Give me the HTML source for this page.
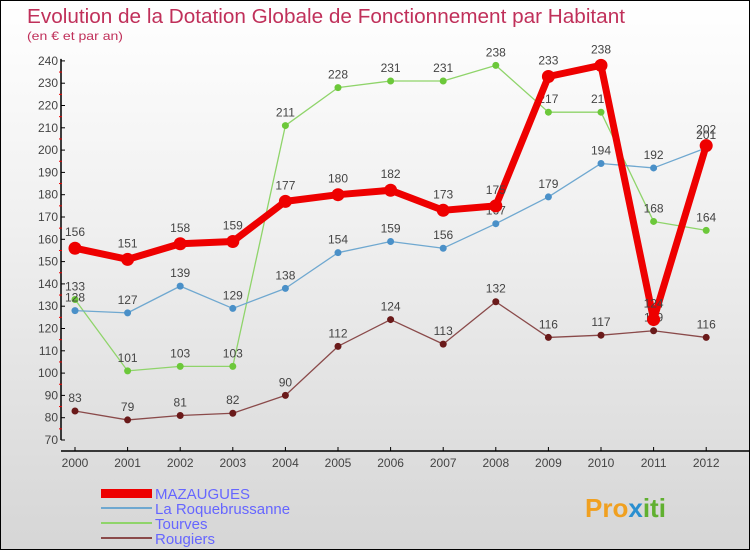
<!DOCTYPE html>
<html><head><meta charset="utf-8"><style>
body{margin:0;width:750px;height:550px;overflow:hidden;font-family:"Liberation Sans",sans-serif}
#wrap{position:relative;width:748px;height:548px;border:1px solid #000;background:linear-gradient(#fff 0%,#f0f0f0 40%,#d6d6d6 100%)}
</style></head><body>
<div id="wrap">
<svg id="svg" width="748" height="548" xmlns="http://www.w3.org/2000/svg">
<text x="26" y="22" font-size="20" fill="#c0305a" textLength="598" lengthAdjust="spacingAndGlyphs">Evolution de la Dotation Globale de Fonctionnement par Habitant</text>
<text x="26" y="39" font-size="12" fill="#c0305a" textLength="96" lengthAdjust="spacingAndGlyphs">(en € et par an)</text>
<g id="axes"></g><g id="series"></g>
<g>
<rect x="100" y="488" width="51" height="9" fill="#e00"/>
<text x="154" y="498" font-size="15" fill="#6666ff">MAZAUGUES</text>
<line x1="100" y1="507" x2="151" y2="507" stroke="#6fa8d0" stroke-width="2"/>
<text x="154" y="513" font-size="15" fill="#6666ff">La Roquebrussanne</text>
<line x1="100" y1="522" x2="151" y2="522" stroke="#8fd46a" stroke-width="2"/>
<text x="154" y="528" font-size="15" fill="#6666ff">Tourves</text>
<line x1="100" y1="537" x2="151" y2="537" stroke="#8a4a4a" stroke-width="2"/>
<text x="154" y="543" font-size="15" fill="#6666ff">Rougiers</text>
</g>
<text x="584" y="516" font-size="26" font-weight="bold" fill="#f0a020">Pro<tspan fill="#2a8fd0">x</tspan><tspan fill="#60b030">iti</tspan></text>
</svg>
</div>
<script>
const years=["2000","2001","2002","2003","2004","2005","2006","2007","2008","2009","2010","2011","2012"];
const mazaugues=[156,151,158,159,177,180,182,173,175,233,238,124,202];
const roquebrussanne=[128,127,139,129,138,154,159,156,167,179,194,192,201];
const tourves=[133,101,103,103,211,228,231,231,238,217,217,168,164];
const rougiers=[83,79,81,82,90,112,124,113,132,116,117,119,116];
const yTicks=[70,80,90,100,110,120,130,140,150,160,170,180,190,200,210,220,230,240];
const NS="http://www.w3.org/2000/svg";
function X(i){return 74+i*52.6;}
function Y(v){return 439-(v-70)*22.3/10;}
function mk(t,a,p){const e=document.createElementNS(NS,t);for(const k in a)e.setAttribute(k,a[k]);p.appendChild(e);return e;}
const ax=document.getElementById('axes');
const ya=mk('line',{x1:60,y1:Y(240)-2,x2:60,y2:Y(70),stroke:'#000','stroke-width':1.5},ax);


const xa=mk('line',{x1:60,y1:450,x2:748,y2:450,stroke:'#000','stroke-width':1.5},ax);


yTicks.forEach(v=>{
 mk('line',{x1:60,y1:Y(v),x2:64,y2:Y(v),stroke:'#000'},ax);
 if(v<240)mk('line',{x1:58,y1:Y(v+5),x2:61,y2:Y(v+5),stroke:'#e00'},ax);
 const t=mk('text',{x:57,y:Y(v)+4,'font-size':12,fill:'#444','text-anchor':'end'},ax);t.textContent=v;
 
 
});
years.forEach((y,i)=>{
 mk('line',{x1:X(i),y1:446,x2:X(i),y2:450,stroke:'#000'},ax);
 const t=mk('text',{x:X(i),y:466,'font-size':12,fill:'#444','text-anchor':'middle'},ax);t.textContent=y;
 
 
});
const sg=document.getElementById('series');
function draw(vals,color,w,r,dot,name){
 const g=mk('g',{},sg);
 
 
 mk('polyline',{points:vals.map((v,i)=>X(i)+','+Y(v)).join(' '),fill:'none',stroke:color,'stroke-width':w,'stroke-linejoin':'round'},g);
 vals.forEach((v,i)=>{
  const c=mk('circle',{cx:X(i),cy:Y(v),r:r,fill:dot},g);
  
  
  const t=mk('text',{x:X(i),y:Y(v)-9-(r>4?3:0),'font-size':12,fill:'#444','text-anchor':'middle'},g);t.textContent=v;
 });
}
draw(rougiers,'#8a4a4a',1.3,3.5,'#6a1a1a','rougiers');
draw(tourves,'#8fd46a',1.3,3.5,'#6cc83a','tourves');
draw(roquebrussanne,'#6fa8d0',1.3,3.5,'#4a90c8','roquebrussanne');
draw(mazaugues,'#e00',7,6.5,'#e00','mazaugues');
</script>
</body></html>
